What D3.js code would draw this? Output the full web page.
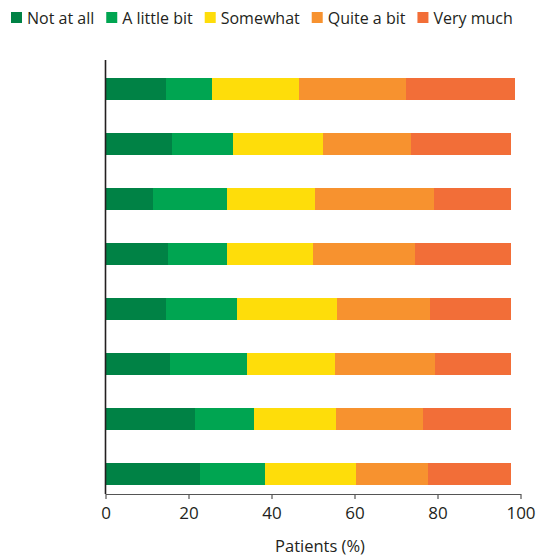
<!DOCTYPE html>
<html>
<head>
<meta charset="utf-8">
<script src="https://cdn.jsdelivr.net/npm/d3@7"></script>
<style>
  html, body { margin: 0; padding: 0; background: #fff; }
  svg { display: block; font-family: "Open Sans", "Noto Sans", sans-serif; }
</style>
</head>
<body>
<svg id="chart" width="542" height="557"></svg>
<script>
// ---- data ----
const rows = ["R1", "R2", "R3", "R4", "R5", "R6", "R7", "R8"];
const categories = ["Not at all", "A little bit", "Somewhat", "Quite a bit", "Very much"];
const notAtAll   = [14.6, 16.1, 11.5, 15.1, 14.6, 15.6, 21.6, 22.8];
const aLittleBit = [11.1, 14.7, 17.8, 14.2, 17.1, 18.5, 14.2, 15.7];
const somewhat   = [21.0, 21.7, 21.2, 20.7, 24.1, 21.2, 19.8, 21.8];
const quiteABit  = [25.8, 21.2, 28.7, 24.6, 22.4, 24.1, 20.9, 17.4];
const veryMuch   = [26.2, 24.1, 18.6, 23.2, 19.6, 18.4, 21.3, 20.1];
const xTicks = [0, 20, 40, 60, 80, 100];
const colors = ["#008245", "#00a551", "#fedd0a", "#f7922f", "#f26e38"];

const series = [notAtAll, aLittleBit, somewhat, quiteABit, veryMuch];
const table = rows.map((r, i) => {
  const o = { row: r };
  categories.forEach((c, k) => { o[c] = series[k][i]; });
  return o;
});

const svg = d3.select("#chart");

const x = d3.scaleLinear().domain([0, 100]).range([105.5, 520.5]);
const y = d3.scaleBand().domain(rows).range([61, 502]).paddingInner(0.6).paddingOuter(0.3);
const color = d3.scaleOrdinal().domain(categories).range(colors);

const stacked = d3.stack().keys(categories)(table);

svg.append("g")
  .selectAll("g")
  .data(stacked)
  .join("g")
  .attr("fill", d => color(d.key))
  .selectAll("rect")
  .data(d => d)
  .join("rect")
  .attr("x", d => x(d[0]))
  .attr("width", d => x(d[1]) - x(d[0]))
  .attr("y", d => y(d.data.row))
  .attr("height", y.bandwidth())
  .attr("shape-rendering", "crispEdges");

// y axis line
svg.append("line")
  .attr("x1", x(0)).attr("x2", x(0))
  .attr("y1", 60).attr("y2", 494)
  .attr("stroke", "#231f20").attr("stroke-width", 1.6);

// x axis
const xAxis = svg.append("g")
  .attr("transform", "translate(0,494)")
  .call(d3.axisBottom(x).tickValues(xTicks).tickSize(5).tickSizeOuter(0).tickPadding(8));
xAxis.select(".domain").attr("stroke", "#555").attr("stroke-width", 1.2);
xAxis.selectAll(".tick line").attr("stroke", "#555").attr("stroke-width", 1.2);
xAxis.selectAll(".tick text")
  .attr("font-family", "'Open Sans', 'Noto Sans', sans-serif")
  .attr("font-size", 17)
  .attr("fill", "#231f20");

svg.append("text")
  .attr("x", 320)
  .attr("y", 552)
  .attr("text-anchor", "middle")
  .attr("font-size", 16.5)
  .attr("fill", "#231f20")
  .text("Patients (%)");

// legend
const legend = svg.append("g").attr("class", "legend");
let lx = 11;
categories.forEach(c => {
  const g = legend.append("g");
  g.append("rect").attr("x", lx).attr("y", 12).attr("width", 11).attr("height", 11).attr("fill", color(c));
  const t = g.append("text")
    .attr("x", lx + 16).attr("y", 23.5)
    .attr("font-size", 16)
    .attr("fill", "#231f20")
    .text(c);
  lx += 16 + t.node().getComputedTextLength() + 12;
});
</script>
</body>
</html>
